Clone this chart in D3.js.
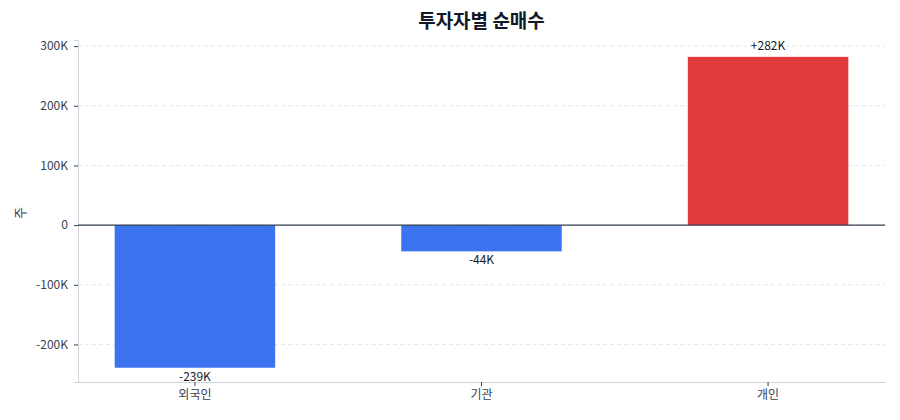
<!DOCTYPE html>
<html>
<head>
<meta charset="utf-8">
<script src="https://cdn.jsdelivr.net/npm/d3@7"></script>
<style>
  body { margin: 0; background: #fff; }
  svg, svg text { font-family: "Noto Sans CJK KR", "Noto Sans", sans-serif; }
</style>
</head>
<body>
<div id="chart"></div>
<script>
var investors = ["외국인", "기관", "개인"];
var netBuy = [-239000, -44000, 282000];
var barColors = ["#3b74ee", "#3b74ee", "#e03b3b"];
var yTicks = [-200000, -100000, 0, 100000, 200000, 300000];

var width = 900,
    height = 420,
    margin = { top: 40, right: 15, bottom: 38, left: 78 };

var svg = d3.select("#chart").append("svg")
    .attr("width", width)
    .attr("height", height);

var x = d3.scaleBand()
    .domain(investors)
    .range([margin.left, width - margin.right])
    .paddingInner(0.44)
    .paddingOuter(0.128);

var y = d3.scaleLinear()
    .domain([d3.min(netBuy) * 1.1, d3.max(netBuy) * 1.1])
    .range([height - margin.bottom, margin.top]);

var fmt = function(d) { return d === 0 ? "0" : (d < 0 ? "-" : "") + Math.abs(d / 1000) + "K"; };

// grid
svg.append("g")
    .selectAll("line")
    .data(yTicks)
  .enter().append("line")
    .attr("x1", margin.left)
    .attr("x2", width - margin.right)
    .attr("y1", function(d) { return y(d); })
    .attr("y2", function(d) { return y(d); })
    .attr("stroke", "#e5e7eb")
    .attr("stroke-dasharray", "4,3");

// y axis
var yAxis = svg.append("g")
    .attr("transform", "translate(" + margin.left + ",0)")
    .call(d3.axisLeft(y).tickValues(yTicks).tickFormat(fmt).tickSize(4).tickPadding(6));
yAxis.attr("font-family", null);
yAxis.select(".domain").attr("stroke", "#d1d5db");
yAxis.selectAll(".tick line").attr("stroke", "#374151");
yAxis.selectAll("text").attr("fill", "#374151").style("font-size", "12px");

// x axis
var xAxis = svg.append("g")
    .attr("transform", "translate(0," + (height - margin.bottom) + ")")
    .call(d3.axisBottom(x).tickSize(4).tickSizeOuter(0).tickPadding(4));
xAxis.attr("font-family", null);
xAxis.select(".domain").attr("stroke", "#d1d5db");
xAxis.selectAll(".tick line").attr("stroke", "#374151");
xAxis.selectAll("text").attr("fill", "#374151").style("font-size", "12px");

// bars
svg.append("g")
    .selectAll("rect")
    .data(netBuy)
  .enter().append("rect")
    .attr("x", function(d, i) { return x(investors[i]); })
    .attr("width", x.bandwidth())
    .attr("y", function(d) { return y(Math.max(0, d)); })
    .attr("height", function(d) { return Math.abs(y(d) - y(0)); })
    .attr("fill", function(d, i) { return barColors[i]; });

// zero line
svg.append("line")
    .attr("x1", margin.left)
    .attr("x2", width - margin.right)
    .attr("y1", y(0))
    .attr("y2", y(0))
    .attr("stroke", "#374151")
    .attr("stroke-width", 1.2);

// value labels
svg.append("g")
    .selectAll("text")
    .data(netBuy)
  .enter().append("text")
    .attr("x", function(d, i) { return x(investors[i]) + x.bandwidth() / 2; })
    .attr("y", function(d) { return d < 0 ? y(d) + 13 : y(d) - 7; })
    .attr("text-anchor", "middle")
    .attr("fill", "#111827")
    .style("font-size", "12px")
    .text(function(d) { return (d > 0 ? "+" : "-") + Math.round(Math.abs(d) / 1000) + "K"; });

// y label
svg.append("text")
    .attr("transform", "translate(25," + (y(0) - 12) + ") rotate(-90)")
    .attr("text-anchor", "middle")
    .attr("fill", "#374151")
    .style("font-size", "13px")
    .text("주");

// title
svg.append("text")
    .attr("x", (margin.left + width - margin.right) / 2)
    .attr("y", 28)
    .attr("text-anchor", "middle")
    .attr("fill", "#111827")
    .style("font-size", "19px")
    .style("font-weight", "bold")
    .text("투자자별 순매수");
</script>
</body>
</html>
